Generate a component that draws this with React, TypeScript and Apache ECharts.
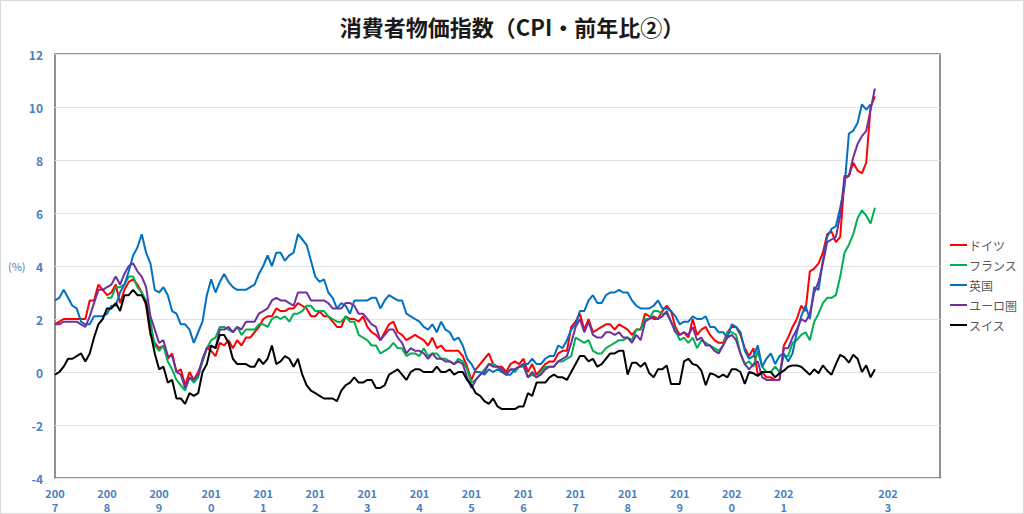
import React, { useEffect, useRef } from "react";
import * as echarts from "echarts";

const FIRST_YEAR = 2007;
const LAST_YEAR = 2023;
const HIDDEN_LABEL_YEARS = ["2022", "2024"];
const Y_TICKS = { min: -4, max: 12, interval: 2 };

const seriesNames = ["ドイツ", "フランス", "英国", "ユーロ圏", "スイス"];
const seriesColors = ["#ff0000", "#00b050", "#0070c0", "#7030a0", "#000000"];

// monthly, 2007/1 .. 2022/10
const germany = [
  1.8, 1.9, 2.0, 2.0, 2.0, 2.0, 2.0, 2.0, 2.7, 2.7, 3.3, 3.1,
  2.9, 3.0, 3.3, 2.6, 3.1, 3.4, 3.5, 3.3, 3.0, 2.5, 1.4, 1.1,
  0.9, 1.0, 0.5, 0.7, 0.0, 0.1, -0.5, 0.0, -0.3, 0.0, 0.4, 0.9,
  0.8, 0.6, 1.1, 1.0, 1.2, 0.9, 1.2, 1.0, 1.3, 1.3, 1.5, 1.7,
  2.0, 2.1, 2.1, 2.4, 2.3, 2.3, 2.4, 2.4, 2.6, 2.5, 2.4, 2.1,
  2.1, 2.3, 2.1, 2.1, 1.9, 1.7, 1.7, 2.1, 2.0, 2.0, 1.9, 2.1,
  1.7, 1.5, 1.4, 1.2, 1.5, 1.8, 1.9, 1.5, 1.4, 1.2, 1.3, 1.4,
  1.3, 1.2, 1.0, 1.3, 0.9, 1.0, 0.8, 0.8, 0.8, 0.8, 0.6, 0.2,
  -0.3, 0.1, 0.3, 0.5, 0.7, 0.3, 0.2, 0.2, 0.0, 0.3, 0.4, 0.3,
  0.5, 0.0, 0.3, -0.1, 0.1, 0.3, 0.4, 0.4, 0.7, 0.8, 0.8, 1.7,
  1.9, 2.2, 1.6, 2.0, 1.5, 1.6, 1.7, 1.8, 1.8, 1.6, 1.8, 1.7,
  1.6, 1.4, 1.6, 1.6, 2.2, 2.1, 2.0, 2.0, 2.3, 2.5, 2.3, 1.7,
  1.4, 1.5, 1.3, 2.0, 1.4, 1.6, 1.7, 1.4, 1.2, 1.1, 1.1, 1.5,
  1.7, 1.7, 1.4, 0.9, 0.6, 0.9, -0.1, 0.0, -0.2, -0.2, -0.3, -0.3,
  1.0, 1.3, 1.7, 2.0, 2.5, 2.3, 3.8, 3.9, 4.1, 4.5, 5.2, 5.3,
  4.9, 5.1, 7.3, 7.4, 7.9, 7.6, 7.5, 7.9, 10.0, 10.4,
];

const france = [
  null, null, null, null, null, null, null, null, null, null, null, null,
  2.8, 2.8, 3.2, 3.2, 3.3, 3.6, 3.6, 3.2, 3.0, 2.7, 1.9, 1.0,
  0.8, 1.0, 0.4, 0.1, -0.3, -0.5, -0.7, -0.2, -0.4, -0.2, 0.4, 0.9,
  1.2, 1.3, 1.7, 1.7, 1.6, 1.5, 1.7, 1.4, 1.6, 1.6, 1.6, 1.8,
  1.8, 1.7, 2.0, 2.1, 2.0, 2.1, 1.9, 2.2, 2.2, 2.3, 2.5, 2.5,
  2.3, 2.3, 2.3, 2.1, 2.0, 1.9, 1.9, 2.1, 1.9, 1.9, 1.4, 1.3,
  1.2, 1.0, 1.0, 0.7, 0.8, 0.9, 1.1, 0.9, 0.9, 0.6, 0.7, 0.7,
  0.6, 0.9, 0.6, 0.7, 0.7, 0.5, 0.5, 0.4, 0.3, 0.5, 0.4, 0.1,
  -0.4, -0.3, -0.1, 0.1, 0.3, 0.3, 0.2, 0.0, -0.1, 0.1, 0.0, 0.2,
  0.2, -0.2, -0.1, -0.2, 0.0, 0.2, 0.2, 0.2, 0.4, 0.4, 0.5, 0.6,
  1.3, 1.2, 1.1, 1.2, 0.8, 0.7, 0.7, 0.9, 1.0, 1.1, 1.2, 1.2,
  1.3, 1.2, 1.6, 1.6, 2.0, 2.0, 2.3, 2.3, 2.2, 2.2, 1.9, 1.6,
  1.2, 1.3, 1.1, 1.3, 0.9, 1.2, 1.1, 1.0, 0.9, 0.8, 1.0, 1.5,
  1.5, 1.4, 0.7, 0.3, 0.4, 0.2, 0.8, 0.2, 0.0, 0.0, 0.2, 0.0,
  0.6, 0.6, 1.1, 1.2, 1.4, 1.5, 1.2, 1.9, 2.2, 2.6, 2.8, 2.8,
  2.9, 3.6, 4.5, 4.8, 5.2, 5.8, 6.1, 5.9, 5.6, 6.2,
];

const uk = [
  2.7, 2.8, 3.1, 2.8, 2.5, 2.4, 1.9, 1.8, 1.8, 2.1, 2.1, 2.1,
  2.2, 2.5, 2.5, 3.0, 3.3, 3.8, 4.4, 4.7, 5.2, 4.5, 4.1, 3.1,
  3.0, 3.2, 2.9, 2.3, 2.2, 1.8, 1.8, 1.6, 1.1, 1.5, 1.9, 2.9,
  3.5, 3.0, 3.4, 3.7, 3.4, 3.2, 3.1, 3.1, 3.1, 3.2, 3.3, 3.7,
  4.0, 4.4, 4.0, 4.5, 4.5, 4.2, 4.4, 4.5, 5.2, 5.0, 4.8, 4.2,
  3.6, 3.4, 3.5, 3.0, 2.8, 2.4, 2.6, 2.5, 2.2, 2.7, 2.7, 2.7,
  2.7, 2.8, 2.8, 2.4, 2.7, 2.9, 2.8, 2.7, 2.7, 2.2, 2.1, 2.0,
  1.9, 1.7, 1.6, 1.8, 1.5, 1.9, 1.6, 1.5, 1.2, 1.3, 1.0, 0.5,
  0.3, 0.0, 0.0, -0.1, 0.1, 0.0, 0.1, 0.0, -0.1, -0.1, 0.1, 0.2,
  0.3, 0.3, 0.5, 0.3, 0.3, 0.5, 0.6, 0.6, 1.0, 0.9, 1.2, 1.6,
  1.8, 2.3, 2.3, 2.7, 2.9, 2.6, 2.6, 2.9, 3.0, 3.0, 3.1, 3.0,
  3.0, 2.7, 2.5, 2.4, 2.4, 2.4, 2.5, 2.7, 2.4, 2.4, 2.3, 2.1,
  1.8, 1.9, 1.9, 2.1, 2.0, 2.0, 2.1, 1.7, 1.7, 1.5, 1.5, 1.3,
  1.8, 1.7, 1.5, 0.8, 0.5, 0.6, 1.0, 0.2, 0.5, 0.7, 0.3, 0.6,
  0.7, 0.4, 0.7, 1.5, 2.1, 2.5, 2.0, 3.2, 3.1, 4.2, 5.1, 5.4,
  5.5, 6.2, 7.0, 9.0, 9.1, 9.4, 10.1, 9.9, 10.1, null,
];

const euroArea = [
  1.8, 1.8, 1.9, 1.9, 1.9, 1.9, 1.8, 1.7, 2.1, 2.6, 3.1, 3.1,
  3.2, 3.3, 3.6, 3.3, 3.7, 4.0, 4.1, 3.8, 3.6, 3.2, 2.1, 1.6,
  1.1, 1.2, 0.6, 0.6, 0.0, -0.1, -0.6, -0.2, -0.3, -0.1, 0.5, 0.9,
  1.0, 0.9, 1.6, 1.6, 1.7, 1.5, 1.7, 1.6, 1.9, 1.9, 1.9, 2.2,
  2.3, 2.4, 2.7, 2.8, 2.7, 2.7, 2.6, 2.5, 3.0, 3.0, 3.0, 2.7,
  2.7, 2.7, 2.7, 2.6, 2.4, 2.4, 2.4, 2.6, 2.6, 2.5, 2.2, 2.2,
  2.0, 1.8, 1.7, 1.2, 1.4, 1.6, 1.6, 1.3, 1.1, 0.7, 0.9, 0.8,
  0.8, 0.7, 0.5, 0.7, 0.5, 0.5, 0.4, 0.4, 0.3, 0.4, 0.3, -0.2,
  -0.6, -0.3, -0.1, 0.0, 0.3, 0.2, 0.2, 0.1, -0.1, 0.1, 0.1, 0.2,
  0.3, -0.2, 0.0, -0.2, -0.1, 0.1, 0.2, 0.2, 0.4, 0.5, 0.6, 1.1,
  1.7, 2.0, 1.5, 1.9, 1.4, 1.3, 1.3, 1.5, 1.5, 1.4, 1.5, 1.3,
  1.3, 1.1, 1.4, 1.2, 1.9, 2.0, 2.1, 2.0, 2.1, 2.3, 1.9, 1.5,
  1.4, 1.5, 1.4, 1.7, 1.2, 1.3, 1.0, 1.0, 0.8, 0.7, 1.0, 1.3,
  1.4, 1.2, 0.7, 0.3, 0.1, 0.3, 0.4, -0.2, -0.3, -0.3, -0.3, -0.3,
  0.9, 0.9, 1.3, 1.6, 2.0, 1.9, 2.2, 3.0, 3.4, 4.1, 4.9, 5.0,
  5.1, 5.9, 7.4, 7.4, 8.1, 8.6, 8.9, 9.1, 9.9, 10.7,
];

const switzerland = [
  -0.1, 0.0, 0.2, 0.5, 0.5, 0.6, 0.7, 0.4, 0.7, 1.3, 1.8, 2.0,
  2.4, 2.4, 2.6, 2.3, 2.9, 2.9, 3.1, 2.9, 2.9, 2.6, 1.5, 0.7,
  0.1, 0.2, -0.4, -0.3, -1.0, -1.0, -1.2, -0.8, -0.9, -0.8, 0.0, 0.3,
  1.0, 0.9, 1.4, 1.4, 1.1, 0.5, 0.3, 0.3, 0.3, 0.2, 0.2, 0.5,
  0.3, 0.5, 1.0, 0.3, 0.4, 0.6, 0.5, 0.2, 0.5, -0.1, -0.5, -0.7,
  -0.8, -0.9, -1.0, -1.0, -1.0, -1.1, -0.7, -0.5, -0.4, -0.2, -0.4, -0.4,
  -0.3, -0.3, -0.6, -0.6, -0.5, -0.1, 0.0, 0.1, -0.1, -0.3, 0.0, 0.1,
  0.1, 0.0, 0.0, 0.0, 0.2, 0.0, 0.0, 0.1, -0.1, 0.0, 0.0, -0.3,
  -0.5, -0.8, -0.9, -1.1, -1.2, -1.0, -1.3, -1.4, -1.4, -1.4, -1.4, -1.3,
  -1.3, -0.8, -0.9, -0.4, -0.4, -0.4, -0.2, -0.1, -0.2, -0.2, -0.3, 0.0,
  0.3, 0.6, 0.6, 0.4, 0.5, 0.2, 0.3, 0.5, 0.7, 0.7, 0.8, 0.8,
  -0.1, 0.35, 0.35, 0.2, 0.35, -0.05, -0.2, 0.1, 0.1, 0.25, -0.45, -0.45,
  -0.45, 0.4, 0.5, 0.3, 0.25, 0.05, -0.5, -0.05, -0.1, -0.2, -0.1, -0.2,
  0.1, 0.1, 0.0, -0.45, 0.0, -0.05, -0.15, 0.0, 0.0, 0.0, -0.2, -0.05,
  0.05, 0.2, 0.25, 0.25, 0.2, 0.05, -0.1, 0.1, -0.05, 0.25, 0.05, -0.1,
  0.3, 0.65, 0.55, 0.35, 0.65, 0.5, 0.0, 0.25, -0.2, 0.1,
];

const seriesData = [germany, france, uk, euroArea, switzerland];

const categories: string[] = [];
for (let y = FIRST_YEAR; y <= LAST_YEAR; y++) {
  for (let m = 1; m <= 12; m++) categories.push(`${y}/${m}`);
}
categories.push(`${LAST_YEAR + 1}/1`);

const FONT = '"Noto Sans CJK JP", "Noto Sans", sans-serif';
const AXIS_BLUE = "#4a7fc1";

export default function App() {
  const ref = useRef<HTMLDivElement>(null);
  useEffect(() => {
    if (!ref.current) return;
    const chart = echarts.init(ref.current, undefined, { renderer: "svg" });
    chart.setOption({
      animation: false,
      backgroundColor: "#ffffff",
      textStyle: { fontFamily: FONT },
      title: {
        text: "消費者物価指数（CPI・前年比②）",
        left: "center",
        top: 10,
        textStyle: { fontFamily: FONT, fontSize: 22, fontWeight: "bold", color: "#1a1a1a" },
      },
      grid: {
        left: 55,
        right: 84,
        top: 54,
        bottom: 36,
        show: true,
        borderColor: "#6e6e6e",
        borderWidth: 1.5,
        backgroundColor: "#ffffff",
      },
      legend: {
        orient: "vertical",
        left: 945,
        top: 233,
        itemGap: 6,
        itemWidth: 17,
        itemHeight: 2,
        icon: "rect",
        data: seriesNames,
        textStyle: { fontFamily: FONT, fontSize: 12, color: "#595959", lineHeight: 14, padding: [0, 0, 0, -3] },
      },
      xAxis: {
        type: "category",
        data: categories,
        boundaryGap: false,
        axisLine: { show: false },
        axisTick: { show: false },
        splitLine: { show: false },
        axisLabel: {
          interval: (idx: number, val: string) => {
            const [y, m] = val.split("/");
            return m === "1" && !HIDDEN_LABEL_YEARS.includes(y);
          },
          formatter: (val: string) => {
            const y = val.split("/")[0];
            return y.slice(0, 3) + "\n" + y.slice(3);
          },
          color: AXIS_BLUE,
          fontFamily: FONT,
          fontWeight: "bold",
          fontSize: 11,
          lineHeight: 14,
          margin: 8,
        },
      },
      yAxis: {
        type: "value",
        min: Y_TICKS.min,
        max: Y_TICKS.max,
        interval: Y_TICKS.interval,
        axisLine: { show: false },
        axisTick: { show: false },
        splitLine: { lineStyle: { color: "#e3e3e3", width: 1 } },
        axisLabel: {
          color: AXIS_BLUE,
          fontFamily: FONT,
          fontWeight: "bold",
          fontSize: 12,
          margin: 12,
        },
      },
      graphic: [
        {
          type: "rect",
          shape: { x: 0.5, y: 0.5, width: 1023, height: 513 },
          style: { fill: "none", stroke: "#d9d9d9", lineWidth: 1 },
          z: -1,
        },
        {
          type: "text",
          left: 8,
          top: 260,
          style: { text: "(%)", fill: AXIS_BLUE, font: `11px ${FONT}` },
        },
      ],
      series: seriesNames.map((name, i) => ({
        name,
        type: "line",
        data: seriesData[i],
        symbol: "none",
        showSymbol: false,
        connectNulls: false,
        color: seriesColors[i],
        lineStyle: { width: 2, color: seriesColors[i] },
      })),
    });
    return () => chart.dispose();
  }, []);
  return (
    <div
      ref={ref}
      style={{ position: "fixed", left: 0, top: 0, width: 1024, height: 514 }}
    />
  );
}
